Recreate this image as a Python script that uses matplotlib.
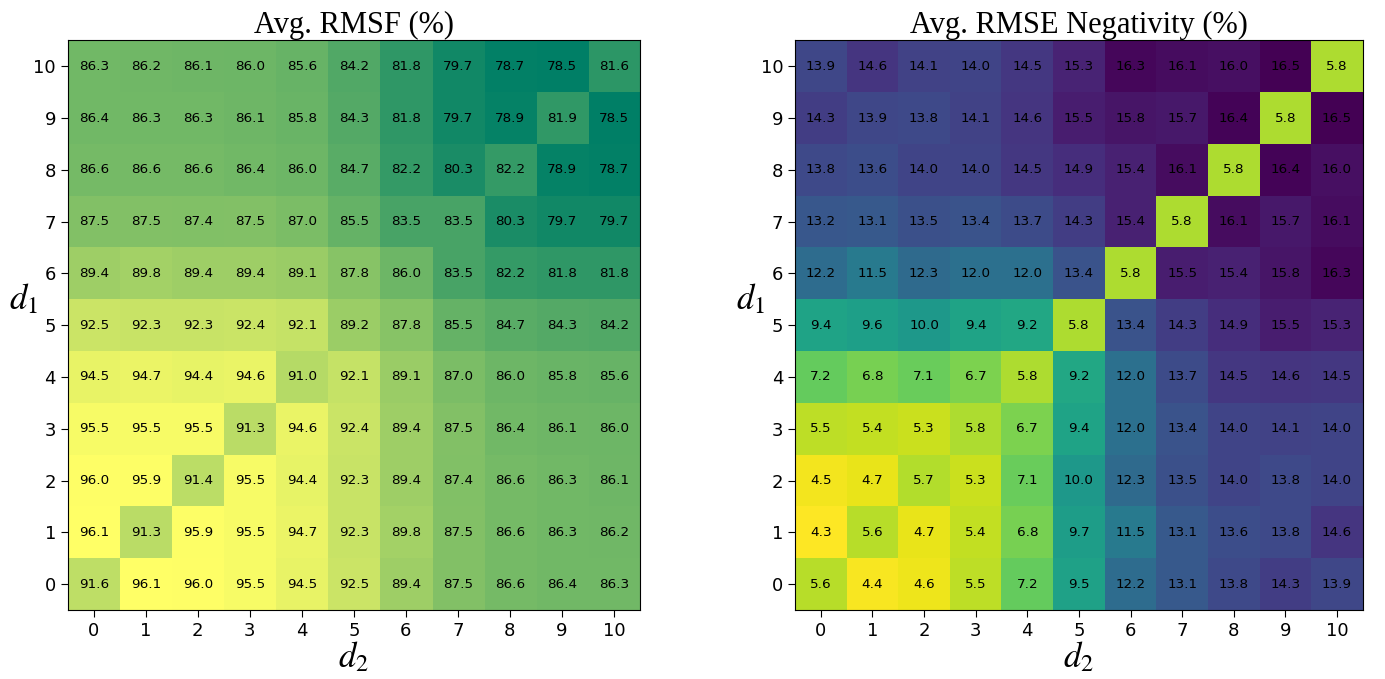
import numpy as np
from matplotlib import pyplot as plt

plt.rcParams['mathtext.fontset'] = 'stix'

d_vals = list(range(11))

# rows are d1 = 0..10, columns are d2 = 0..10
rmsf = [
    [91.6, 96.1, 96.0, 95.5, 94.5, 92.5, 89.4, 87.5, 86.6, 86.4, 86.3],
    [96.1, 91.3, 95.9, 95.5, 94.7, 92.3, 89.8, 87.5, 86.6, 86.3, 86.2],
    [96.0, 95.9, 91.4, 95.5, 94.4, 92.3, 89.4, 87.4, 86.6, 86.3, 86.1],
    [95.5, 95.5, 95.5, 91.3, 94.6, 92.4, 89.4, 87.5, 86.4, 86.1, 86.0],
    [94.5, 94.7, 94.4, 94.6, 91.0, 92.1, 89.1, 87.0, 86.0, 85.8, 85.6],
    [92.5, 92.3, 92.3, 92.4, 92.1, 89.2, 87.8, 85.5, 84.7, 84.3, 84.2],
    [89.4, 89.8, 89.4, 89.4, 89.1, 87.8, 86.0, 83.5, 82.2, 81.8, 81.8],
    [87.5, 87.5, 87.4, 87.5, 87.0, 85.5, 83.5, 83.5, 80.3, 79.7, 79.7],
    [86.6, 86.6, 86.6, 86.4, 86.0, 84.7, 82.2, 80.3, 82.2, 78.9, 78.7],
    [86.4, 86.3, 86.3, 86.1, 85.8, 84.3, 81.8, 79.7, 78.9, 81.9, 78.5],
    [86.3, 86.2, 86.1, 86.0, 85.6, 84.2, 81.8, 79.7, 78.7, 78.5, 81.6],
]

rmse_neg = [
    [5.6, 4.4, 4.6, 5.5, 7.2, 9.5, 12.2, 13.1, 13.8, 14.3, 13.9],
    [4.3, 5.6, 4.7, 5.4, 6.8, 9.7, 11.5, 13.1, 13.6, 13.8, 14.6],
    [4.5, 4.7, 5.7, 5.3, 7.1, 10.0, 12.3, 13.5, 14.0, 13.8, 14.0],
    [5.5, 5.4, 5.3, 5.8, 6.7, 9.4, 12.0, 13.4, 14.0, 14.1, 14.0],
    [7.2, 6.8, 7.1, 6.7, 5.8, 9.2, 12.0, 13.7, 14.5, 14.6, 14.5],
    [9.4, 9.6, 10.0, 9.4, 9.2, 5.8, 13.4, 14.3, 14.9, 15.5, 15.3],
    [12.2, 11.5, 12.3, 12.0, 12.0, 13.4, 5.8, 15.5, 15.4, 15.8, 16.3],
    [13.2, 13.1, 13.5, 13.4, 13.7, 14.3, 15.4, 5.8, 16.1, 15.7, 16.1],
    [13.8, 13.6, 14.0, 14.0, 14.5, 14.9, 15.4, 16.1, 5.8, 16.4, 16.0],
    [14.3, 13.9, 13.8, 14.1, 14.6, 15.5, 15.8, 15.7, 16.4, 5.8, 16.5],
    [13.9, 14.6, 14.1, 14.0, 14.5, 15.3, 16.3, 16.1, 16.0, 16.5, 5.8],
]

panels = [
    (rmsf, 'summer', 'Avg. RMSF (%)', [0.049, 0.1016, 0.413, 0.839]),
    (rmse_neg, 'viridis_r', 'Avg. RMSE Negativity (%)', [0.574, 0.1016, 0.410, 0.839]),
]

fig = plt.figure(figsize=(13.85, 6.79), dpi=100)

for data, cmap, title, pos in panels:
    arr = np.array(data)
    ax = fig.add_axes(pos)
    ax.imshow(arr, cmap=cmap, origin='lower', aspect='auto')
    for i in range(arr.shape[0]):
        for j in range(arr.shape[1]):
            ax.text(j, i, f"{arr[i, j]:.1f}", ha='center', va='center',
                    fontsize=9.7, color='black')
    ax.set_xticks(d_vals)
    ax.set_yticks(d_vals)
    ax.tick_params(axis='both', labelsize=13, length=5)
    ax.set_title(title, fontsize=22, family='Liberation Serif', pad=5)
    ax.set_xlabel('$d_2$', fontsize=25, labelpad=0)
    ax.set_ylabel('$d_1$', fontsize=25, rotation=0)
    ax.yaxis.set_label_coords(-0.078, 0.515)

fig.savefig('out.png', dpi=100)
